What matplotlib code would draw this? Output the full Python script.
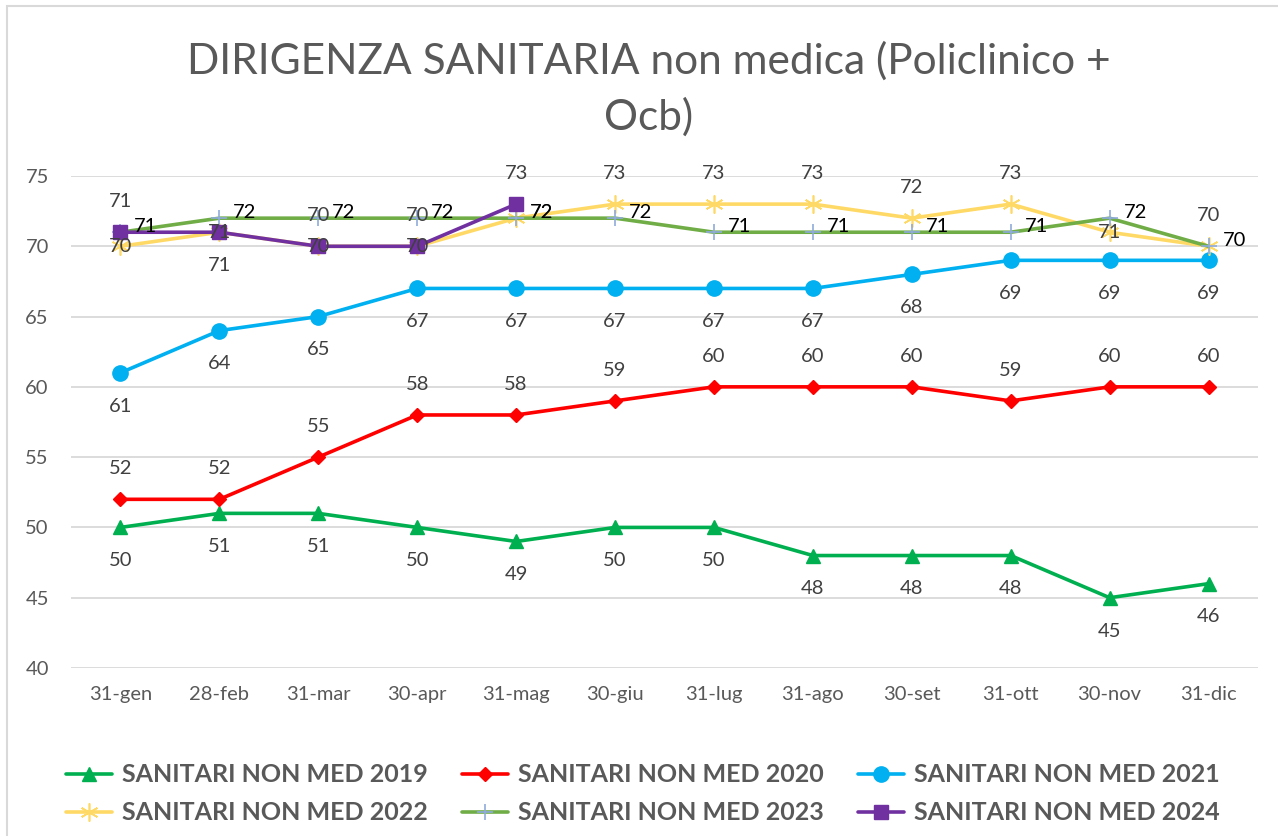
import matplotlib
matplotlib.use("Agg")
import matplotlib.pyplot as plt
from matplotlib.patches import Rectangle

plt.rcParams['font.family'] = ['Lato', 'DejaVu Sans']

categories = ['31-gen', '28-feb', '31-mar', '30-apr', '31-mag', '30-giu',
              '31-lug', '31-ago', '30-set', '31-ott', '30-nov', '31-dic']

s2019 = [50, 51, 51, 50, 49, 50, 50, 48, 48, 48, 45, 46]
s2020 = [52, 52, 55, 58, 58, 59, 60, 60, 60, 59, 60, 60]
s2021 = [61, 64, 65, 67, 67, 67, 67, 67, 68, 69, 69, 69]
s2022 = [70, 71, 70, 70, 72, 73, 73, 73, 72, 73, 71, 70]
s2023 = [71, 72, 72, 72, 72, 72, 71, 71, 71, 71, 72, 70]
s2024 = [71, 71, 70, 70, 73]

names = ['SANITARI NON MED 2019', 'SANITARI NON MED 2020', 'SANITARI NON MED 2021',
         'SANITARI NON MED 2022', 'SANITARI NON MED 2023', 'SANITARI NON MED 2024']

title = 'DIRIGENZA SANITARIA non medica (Policlinico +\nOcb)'

# styles
colors = ['#00B050', '#FF0000', '#00B0F0', '#FFD966', '#70AD47', '#7030A0']
markers = ['^', 'D', 'o', (6, 2, 0), '+', 's']
msizes = [10, 7.5, 11, 13, 12, 10.5]
mfc = ['#00B050', '#FF0000', '#00B0F0', '#FFD966', '#8FAADC', '#7030A0']
label_pos = [
    ['b'] * 12,
    ['a'] * 12,
    ['b'] * 12,
    ['c', 'c', 'a', 'a', 'r', 'a', 'a', 'a', 'a', 'a', 'c', 'a'],
    ['r'] * 12,
    ['a', 'b', 'c', 'c', 'a'],
]
label_colors = ['#404040', '#404040', '#404040', '#404040', '#000000', '#404040']

W, H = 1278, 836
fig = plt.figure(figsize=(W / 100, H / 100), dpi=100)
ax = fig.add_axes([71 / W, 1 - 668 / H, (1258 - 71) / W, (668 - 176) / H])

series = [s2019, s2020, s2021, s2022, s2023, s2024]
x = list(range(len(categories)))
handles = []
for i, s in enumerate(series):
    xs = x[:len(s)]
    h, = ax.plot(xs, s, color=colors[i], lw=2.6, marker=markers[i], ms=msizes[i],
                 mfc=mfc[i], mec=mfc[i], mew=1.2 if i in (3, 4) else 1,
                 label=names[i], zorder=3 + i, solid_capstyle='round')
    handles.append(h)
    for xi, v, p in zip(xs, s, label_pos[i]):
        if p == 'a':
            off, ha, va = (0, 22), 'center', 'center'
        elif p == 'b':
            off, ha, va = (0, -24), 'center', 'center'
        elif p == 'c':
            off, ha, va = (0, 0), 'center', 'center'
        else:
            off, ha, va = (10, 4), 'left', 'center'
        ax.annotate(str(v), (xi, v), xytext=off, textcoords='offset points',
                    ha=ha, va=va, fontsize=14.5, color=label_colors[i], zorder=20)

ax.set_xlim(-0.5, len(categories) - 0.5)
ax.set_ylim(40, 75)
ax.set_yticks(range(40, 76, 5))
ax.set_xticks(x)
ax.set_xticklabels(categories)
ax.grid(axis='y', color='#D9D9D9', lw=1.3)
ax.set_axisbelow(True)
for sp in ax.spines.values():
    sp.set_visible(False)
ax.tick_params(axis='both', length=0, labelsize=14.5, colors='#595959')
ax.tick_params(axis='y', pad=16)
ax.tick_params(axis='x', pad=13)

fig.text(649 / W, 1 - 89 / H, title, ha='center', va='center', fontsize=30.5,
         color='#595959', linespacing=1.5)

order = [0, 3, 1, 4, 2, 5]
fig.legend(handles=[handles[k] for k in order], loc='center',
           bbox_to_anchor=(0.503, 1 - 794 / H),
           ncol=3, frameon=False, prop={'weight': 'bold', 'size': 18},
           labelcolor='#595959', handlelength=1.85, handletextpad=0.4,
           columnspacing=1.36, labelspacing=0.6)

fig.add_artist(Rectangle((7 / W, -0.1), 1.2, 1 - 6 / H + 0.1, transform=fig.transFigure,
                         fill=False, ec='#D9D9D9', lw=1.5))

fig.savefig('out.png', dpi=100, facecolor='white')
